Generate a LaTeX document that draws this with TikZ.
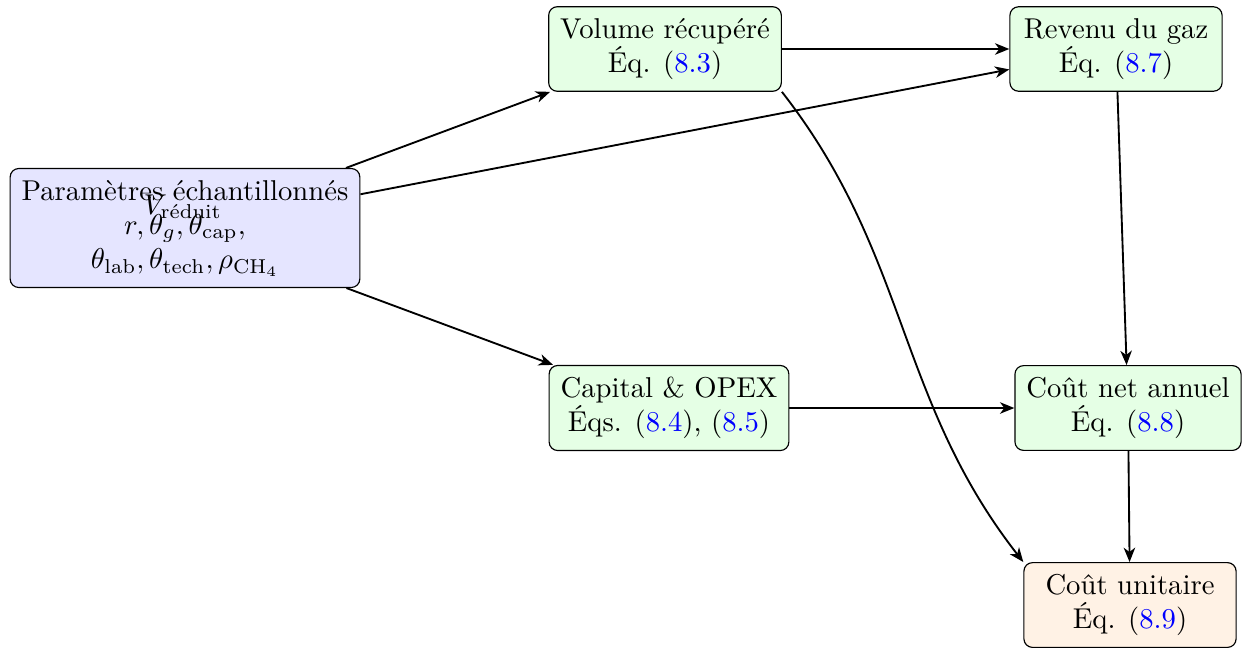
\documentclass[tikz,border=0pt]{standalone}
\usepackage{amsmath}
\usetikzlibrary{arrows.meta}
\begin{document}
\begin{tikzpicture}[x=0.01225cm,y=-0.01225cm,
  box/.style={draw, rounded corners=3pt, align=center, inner sep=4pt, minimum width=2.6cm},
  inbox/.style={box, fill=blue!10},
  eqbox/.style={box, fill=green!10},
  outbox/.style={box, fill=orange!10},
  conn/.style={line width=0.65pt, -{Stealth[length=5pt,width=4pt,inset=1.5pt]}}]
\useasboundingbox (0,0) rectangle (1243,648);
\node[inbox] (par) at (185,228) {Paramètres échantillonnés\\ $r, \theta_g, \theta_{\mathrm{cap}},$\\ $\theta_{\mathrm{lab}}, \theta_{\mathrm{tech}}, \rho_{\mathrm{CH}_4}$};
\node[anchor=base, inner sep=0pt] (vr) at (183,214) {$V_{\text{réduit}}$};
\node[eqbox] (vol) at (665,49) {Volume récupéré\\ Éq. (\textcolor{blue}{8.3})};
\node[eqbox] (rev) at (1116,49) {Revenu du gaz\\ Éq. (\textcolor{blue}{8.7})};
\node[eqbox] (cap) at (669,408) {Capital \& OPEX\\ Éqs. (\textcolor{blue}{8.4}), (\textcolor{blue}{8.5})};
\node[eqbox] (net) at (1128,408) {Coût net annuel\\ Éq. (\textcolor{blue}{8.8})};
\node[outbox] (unit) at (1130,605) {Coût unitaire\\ Éq. (\textcolor{blue}{8.9})};
\draw[conn] (par) -- (vol);
\draw[conn] (par) -- (rev);
\draw[conn] (par) -- (cap);
\draw[conn] (vol) -- (rev);
\draw[conn] (vol.south east) to[out=-52,in=128] (unit.north west);
\draw[conn] (rev) -- (net);
\draw[conn] (cap) -- (net);
\draw[conn] (net) -- (unit);
\end{tikzpicture}
\end{document}
